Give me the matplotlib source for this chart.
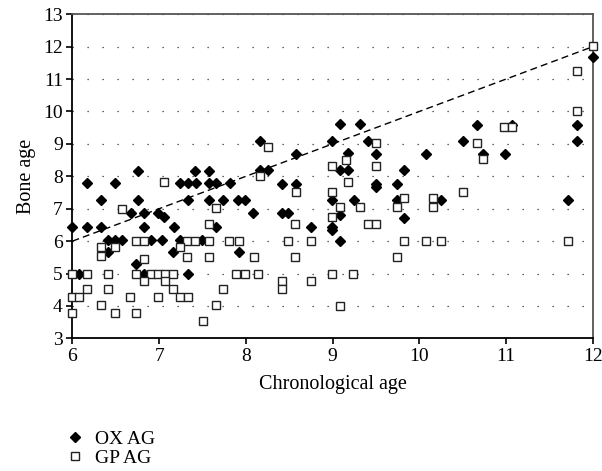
import matplotlib.pyplot as plt

plt.rcParams['font.family'] = ['Liberation Serif', 'DejaVu Serif']

# OX AG (filled diamonds)
ox_x = [6.00, 6.17, 6.33, 6.17, 6.49, 6.33, 6.75, 6.75, 6.67, 6.82, 6.99, 7.05,
        6.82, 6.41, 6.49, 6.57, 6.90, 7.03, 6.41, 6.07, 6.73, 6.82, 7.41, 7.57,
        7.24, 7.33, 7.42, 7.57, 7.66, 7.82, 7.33, 7.57, 7.74, 7.91, 7.99, 8.08,
        7.17, 7.24, 7.49, 7.16, 7.66, 7.92, 7.33, 9.08, 8.16, 8.99, 8.58, 8.16,
        8.25, 9.08, 9.18, 9.18, 8.42, 8.58, 8.99, 9.25, 8.42, 8.49, 9.08, 8.75,
        8.99, 8.99, 9.08, 9.32, 9.41, 9.50, 10.08, 9.82, 9.50, 9.50, 9.74, 9.74,
        10.25, 9.82, 12.00, 11.82, 11.82, 10.67, 10.50, 11.07, 10.99, 10.74, 11.72]
ox_y = [6.43, 6.43, 6.43, 7.78, 7.78, 7.26, 8.17, 7.26, 6.86, 6.86, 6.86, 6.73,
        6.43, 6.02, 6.02, 6.02, 6.02, 6.02, 5.67, 5.00, 5.29, 5.00, 8.17, 8.17,
        7.78, 7.78, 7.78, 7.78, 7.78, 7.78, 7.26, 7.26, 7.26, 7.26, 7.26, 6.86,
        6.45, 6.02, 6.02, 5.67, 6.45, 5.67, 5.00, 9.60, 9.10, 9.10, 8.69, 8.19,
        8.19, 8.19, 8.19, 8.73, 7.76, 7.76, 7.27, 7.27, 6.86, 6.86, 6.80, 6.45,
        6.45, 6.35, 6.00, 9.60, 9.10, 8.69, 8.69, 8.19, 7.76, 7.67, 7.76, 7.27,
        7.27, 6.70, 11.67, 9.58, 9.09, 9.58, 9.09, 9.58, 8.68, 8.68, 7.27]

# GP AG (open squares)
gp_x = [6.57, 7.05, 6.33, 6.33, 6.49, 6.73, 6.83, 6.82, 6.00, 6.17, 6.41, 6.73,
        6.90, 6.99, 6.82, 6.17, 6.41, 6.00, 6.07, 6.66, 6.99, 6.33, 6.00, 6.49,
        6.73, 7.66, 7.57, 7.32, 7.41, 7.57, 7.81, 7.92, 7.24, 7.32, 7.57, 8.09,
        7.07, 7.16, 7.89, 7.99, 8.14, 7.07, 7.16, 7.24, 7.33, 7.74, 7.66, 7.50,
        8.25, 8.16, 9.15, 8.99, 9.18, 8.58, 8.99, 9.08, 8.99, 8.57, 8.49, 8.75,
        8.57, 8.99, 9.24, 8.42, 8.42, 8.75, 9.08, 9.50, 9.50, 9.82, 10.16, 10.16,
        9.32, 9.74, 9.41, 9.50, 9.82, 10.08, 10.25, 9.74, 12.00, 11.82, 11.82,
        10.98, 11.07, 10.67, 10.74, 10.50, 11.72]
gp_y = [7.00, 7.83, 5.83, 5.54, 5.83, 6.00, 6.00, 5.44, 5.00, 5.00, 5.00, 5.00,
        5.00, 5.00, 4.78, 4.53, 4.53, 4.28, 4.28, 4.28, 4.28, 4.04, 3.79, 3.79,
        3.79, 7.01, 6.53, 6.00, 6.00, 6.00, 6.00, 6.00, 5.83, 5.52, 5.52, 5.52,
        5.00, 5.00, 5.00, 5.00, 5.00, 4.78, 4.53, 4.28, 4.28, 4.53, 4.04, 3.53,
        8.91, 8.00, 8.50, 8.32, 7.83, 7.53, 7.53, 7.04, 6.75, 6.52, 6.00, 6.00,
        5.52, 5.00, 5.00, 4.77, 4.52, 4.77, 4.00, 9.02, 8.32, 7.32, 7.32, 7.04,
        7.04, 7.04, 6.52, 6.52, 6.00, 6.00, 6.00, 5.52, 12.02, 11.26, 10.02,
        9.51, 9.51, 9.02, 8.52, 7.53, 6.00]

# line of equality
ref = [6, 12]

fig = plt.figure(figsize=(6.02, 4.71), dpi=100)
ax = fig.add_axes([0.1204, 0.2817, 0.8642, 0.688])

ax.plot(ref, ref, color='black', linestyle=(0, (5, 3)), linewidth=1.0, zorder=2)
ax.plot(ox_x, ox_y, linestyle='none', marker='D', markersize=4.6,
        color='black', label='OX AG', clip_on=False, zorder=3)
ax.plot(gp_x, gp_y, linestyle='none', marker='s', markersize=6.2,
        markerfacecolor='white', markeredgecolor='#222222', markeredgewidth=1.0,
        label='GP AG', clip_on=False, zorder=4)

ax.set_xlim(6, 12)
ax.set_ylim(3, 13)
ax.set_xticks(range(6, 13))
ax.set_yticks(range(3, 14))
ax.yaxis.grid(True, color='#333333', linestyle=(0, (1, 11)), linewidth=0.9)
ax.set_axisbelow(True)

for s in ['left', 'bottom']:
    ax.spines[s].set_linewidth(1.3)
    ax.spines[s].set_color('black')
for s in ['top', 'right']:
    ax.spines[s].set_linewidth(1.3)
    ax.spines[s].set_color('#555555')

ax.tick_params(direction='out', length=4, width=1.2, labelsize=14, pad=3)
ax.set_xlabel('Chronological age', fontsize=14.5, labelpad=7)
ax.set_ylabel('Bone age', fontsize=14.5, labelpad=5)

fig.legend(loc='upper left', bbox_to_anchor=(0.112, 0.086), frameon=False,
           fontsize=14, handlelength=0.8, handletextpad=0.6, labelspacing=0.05,
           borderpad=0, borderaxespad=0)

fig.savefig('out.png', dpi=100)
